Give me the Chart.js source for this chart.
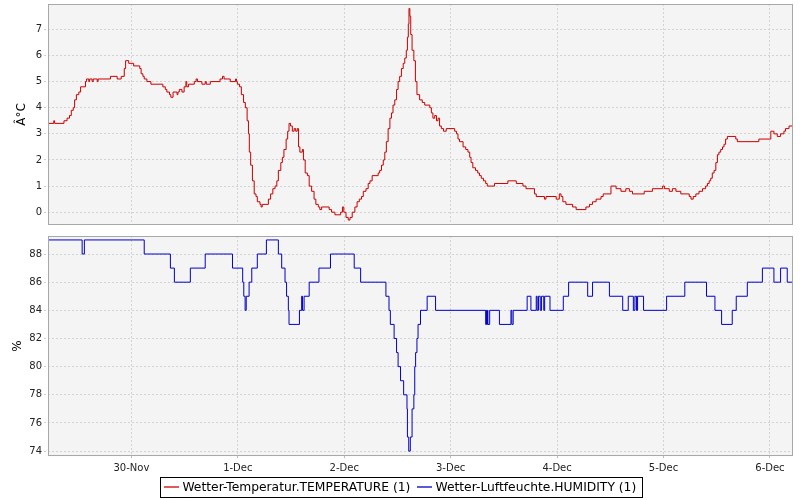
<!DOCTYPE html>
<html><head><meta charset="utf-8">
<script src="https://cdn.jsdelivr.net/npm/chart.js@4.4.0/dist/chart.umd.min.js"></script>
<style>
html,body{margin:0;padding:0;background:#fff;overflow:hidden;width:800px;height:500px;}
#c1{position:absolute;left:0;top:0;}
#c2{position:absolute;left:0;top:231px;}
</style></head><body>
<canvas id="c1" width="800" height="231"></canvas>
<canvas id="c2" width="800" height="273"></canvas>
<script>
// ---- data (hours since 29-Nov 00:00) ----
const dayHours = [24, 48, 72, 96, 120, 144, 168];
const dayLabels = ['30-Nov', '1-Dec', '2-Dec', '3-Dec', '4-Dec', '5-Dec', '6-Dec'];
const tempTicks = [0, 1, 2, 3, 4, 5, 6, 7];
const humTicks = [74, 76, 78, 80, 82, 84, 86, 88];
const seriesNames = ['Wetter-Temperatur.TEMPERATURE (1)', 'Wetter-Luftfeuchte.HUMIDITY (1)'];
const axisTitles = ['Â°C', '%'];

const tempHours = [5.2,6.5,6.7,8.8,9.5,10.05,10.45,10.9,11.2,11.6,12.15,12.55,13.65,13.9,14.4,14.6,15.15,15.4,16.3,16.5,19.3,20.8,21.7,22.4,22.7,23.4,24.5,25.9,26.2,26.6,26.9,27.5,28.4,31.1,31.65,32.0,32.6,32.9,33.4,34.3,34.5,34.8,35.4,35.9,36.3,36.5,36.9,38.2,38.6,38.9,39.9,40.65,40.9,41.8,44.0,44.55,44.9,46.3,47.5,47.7,47.9,48.4,48.8,49.3,49.7,50.1,50.4,50.6,50.9,51.3,51.7,52.1,52.4,53.0,53.25,53.5,54.9,55.4,55.9,56.4,56.8,57.15,57.7,58.05,58.4,58.9,59.25,59.55,59.9,60.3,60.7,61.05,61.4,61.7,62.0,62.55,62.8,63.2,63.7,64.1,64.65,65.2,65.6,66.15,66.5,66.9,68.6,69.15,69.9,71.2,71.6,71.9,72.4,72.9,73.3,73.8,74.4,74.9,75.4,75.9,76.3,76.9,77.4,77.8,78.3,79.65,80.0,80.4,80.8,81.15,81.5,81.9,82.3,82.65,83.0,83.4,83.8,84.15,84.5,84.9,85.3,85.65,86.0,86.25,86.45,86.6,86.8,87.0,87.3,87.7,88.05,88.4,89.0,89.6,90.15,91.3,91.65,92.0,92.4,92.8,93.15,93.5,93.9,94.4,95.0,96.9,97.3,97.65,98.0,98.8,99.4,99.9,100.3,100.6,101.0,101.6,102.1,102.5,102.9,103.4,103.9,104.25,105.9,108.9,110.8,112.3,113.0,114.9,115.3,117.15,117.5,119.8,120.5,120.9,121.3,122.0,123.5,124.3,126.5,127.3,128.0,128.8,129.9,130.4,132.15,133.3,134.4,135.5,136.3,137.0,139.65,141.5,143.8,144.2,145.3,146.0,146.8,147.9,149.8,150.2,150.7,151.3,152.0,152.8,153.5,153.9,154.3,154.65,155.0,155.4,155.8,156.15,156.5,156.9,157.3,157.65,158.0,158.4,160.3,160.65,165.5,168.2,168.9,169.65,170.4,171.15,171.5,172.3,173.2];
const tempValues = [3.4,3.5,3.4,3.5,3.6,3.7,3.9,4.0,4.3,4.5,4.6,4.8,5.0,5.1,5.0,5.1,5.0,5.1,5.0,5.1,5.2,5.1,5.2,5.5,5.8,5.7,5.6,5.5,5.3,5.2,5.1,5.0,4.9,4.8,4.7,4.6,4.5,4.4,4.6,4.5,4.6,4.7,4.6,4.8,5.0,4.8,4.9,5.0,5.1,5.0,4.9,5.0,4.9,5.0,5.1,5.2,5.1,5.0,5.1,5.0,4.9,4.8,4.5,4.2,4.0,3.5,3.0,2.3,1.8,1.2,0.7,0.6,0.4,0.3,0.2,0.3,0.5,0.7,0.9,1.0,1.2,1.6,1.9,2.1,2.4,2.8,3.1,3.4,3.3,3.1,3.2,3.1,3.2,2.5,2.3,2.4,2.0,1.5,1.4,1.0,0.8,0.5,0.3,0.2,0.1,0.2,0.1,0.0,-0.1,0.0,0.2,0.0,-0.2,-0.3,-0.2,0.0,0.2,0.4,0.5,0.6,0.8,0.9,1.1,1.2,1.4,1.5,1.6,1.8,2.0,2.3,2.7,3.2,3.6,3.8,4.1,4.3,4.7,5.0,5.2,5.5,5.7,5.9,6.2,6.7,7.2,7.8,7.5,6.8,6.2,5.8,5.0,4.5,4.3,4.2,4.1,4.0,3.8,3.6,3.7,3.5,3.6,3.3,3.2,3.1,3.2,3.1,3.0,2.8,2.7,2.5,2.4,2.3,2.1,1.9,1.7,1.6,1.5,1.4,1.3,1.2,1.1,1.0,1.1,1.2,1.1,1.0,0.9,0.7,0.6,0.5,0.6,0.5,0.7,0.6,0.4,0.3,0.2,0.1,0.2,0.3,0.4,0.5,0.6,0.7,1.0,0.9,0.8,0.9,0.8,0.7,0.8,0.9,1.0,0.9,0.8,0.9,0.8,0.7,0.6,0.5,0.6,0.7,0.8,0.9,1.0,1.1,1.2,1.3,1.5,1.6,1.9,2.2,2.3,2.4,2.5,2.6,2.8,2.9,2.8,2.7,2.8,3.1,3.0,2.9,3.0,3.1,3.2,3.3,3.3];

const humHours = [5.2,12.9,13.4,26.9,32.8,33.7,37.3,40.65,46.8,49.1,49.35,49.65,49.9,50.55,51.15,52.4,54.45,57.15,57.9,58.65,59.0,59.4,59.55,61.9,62.4,62.6,62.95,64.1,66.3,68.9,74.25,75.7,81.4,82.1,82.4,83.25,83.8,84.15,84.7,85.4,86.15,86.25,86.55,86.9,87.3,87.7,87.9,88.1,88.4,88.65,89.2,90.7,92.6,103.9,104.05,104.15,104.3,104.4,104.8,107.0,109.6,109.8,110.1,113.25,114.1,115.3,115.5,115.8,116.2,116.5,117.0,117.2,118.4,121.4,122.6,126.9,128.0,131.8,134.8,136.05,137.2,137.55,137.9,138.15,139.5,144.7,148.8,153.7,155.6,157.1,159.5,160.4,162.9,166.3,168.9,170.4,171.9,173.2];
const humValues = [89,88,89,88,87,86,87,88,87,86,85,84,85,86,87,88,89,88,87,86,85,84,83,84,85,84,85,86,87,88,87,86,85,84,83,82,81,80,79,78,77,75,74,75,77,78,80,81,82,83,84,85,84,83,84,83,84,83,84,83,84,83,84,85,84,85,84,85,84,85,84,85,84,85,86,85,86,85,84,85,84,85,84,85,84,85,86,85,84,83,84,85,86,87,86,87,86,86];

// ---- rendering ----
Chart.defaults.font.family = "'DejaVu Sans', sans-serif";
Chart.defaults.animation = false;
const X_MIN = 5.2, X_MAX = 173.2;
const tempColor = '#c80000', humColor = '#0000c8';
const tempLegendColor = '#e05a5a', humLegendColor = '#5a5ae0';
const gridColor = '#d2d2d2';

const toPts = (xs, ys) => xs.map((x, i) => ({x, y: ys[i]}));

function legendMarker(color) {
  const c = document.createElement('canvas');
  c.width = 15; c.height = 2;
  const g = c.getContext('2d');
  g.fillStyle = color; g.fillRect(0, 0, 15, 2);
  return c;
}

const framePlugin = {
  id: 'frame',
  beforeDraw(chart) {
    const {ctx, chartArea: a} = chart;
    ctx.save(); ctx.fillStyle = '#f4f4f4';
    ctx.fillRect(a.left, a.top, a.right - a.left, a.bottom - a.top);
    ctx.restore();
  },
  afterDatasetsDraw(chart) {
    const {ctx, chartArea: a} = chart;
    ctx.save(); ctx.strokeStyle = '#a8a8a8'; ctx.lineWidth = 1;
    ctx.strokeRect(Math.round(a.left) + 0.5, Math.round(a.top) + 0.5,
      Math.round(a.right - a.left) - 1, Math.round(a.bottom - a.top) - 1);
    ctx.restore();
  }
};
const legendBoxPlugin = {
  id: 'legendBox',
  afterDraw(chart) {
    const hb = chart.legend && chart.legend.legendHitBoxes;
    if (!hb || !hb.length) return;
    const ctx = chart.ctx;
    const l = Math.min(...hb.map(b => b.left)) - 6.5;
    const r = Math.max(...hb.map(b => b.left + b.width)) + 5.5;
    const t = hb[0].top - 4, b = hb[0].top + 16;
    ctx.save(); ctx.strokeStyle = '#000'; ctx.lineWidth = 1;
    ctx.strokeRect(Math.round(l) + 0.5, Math.round(t) + 0.5, Math.round(r - l), Math.round(b - t));
    ctx.restore();
  }
};

function xScale(showLabels) {
  return {
    type: 'linear', min: X_MIN, max: X_MAX,
    afterBuildTicks: s => { s.ticks = dayHours.map(v => ({value: v})); },
    afterFit: s => { s.height = showLabels ? 16 : 0; s.paddingLeft = 0; s.paddingRight = 0; },
    ticks: { display: showLabels, autoSkip: false, maxRotation: 0, padding: 4,
      font: {size: 10}, color: '#222', callback: (v, i) => dayLabels[i] },
    grid: { color: gridColor, drawTicks: showLabels, tickLength: 2, tickColor: '#bbb', tickBorderDash: [] },
    border: { display: false, dash: [2, 2] }
  };
}
function yScale(ticksArr, min, max, width, title, titlePad, titleLH) {
  return {
    type: 'linear', min, max,
    afterBuildTicks: s => { s.ticks = ticksArr.map(v => ({value: v})); },
    afterFit: s => { s.width = width; s.paddingTop = 0; s.paddingBottom = 0; },
    ticks: { font: {size: 10}, color: '#222', padding: 2 },
    grid: { color: gridColor, tickLength: 4, tickColor: '#cfcfcf', tickBorderDash: [2, 2] },
    border: { display: false, dash: [2, 2] },
    title: { display: true, text: title, color: '#000', font: {size: 12, lineHeight: titleLH}, padding: {top: titlePad, bottom: 0} }
  };
}

new Chart(document.getElementById('c1'), {
  type: 'line',
  data: { datasets: [{ label: seriesNames[0], data: toPts(tempHours, tempValues),
    borderColor: tempColor, borderWidth: 1, pointRadius: 0, stepped: true, fill: false }] },
  options: {
    responsive: false, animation: false,
    layout: { padding: {left: 0, right: 7, top: 4, bottom: 6} },
    plugins: { legend: {display: false}, tooltip: {enabled: false} },
    scales: { x: xScale(false), y: yScale(tempTicks, -0.49, 7.97, 48, axisTitles[0], 15, 1.2) }
  },
  plugins: [framePlugin]
});

new Chart(document.getElementById('c2'), {
  type: 'line',
  data: { datasets: [{ label: seriesNames[1], data: toPts(humHours, humValues),
    borderColor: humColor, borderWidth: 1, pointRadius: 0, stepped: true, fill: false }] },
  options: {
    responsive: false, animation: false,
    layout: { padding: {left: 9.5, right: 7, top: 5, bottom: 0.5} },
    plugins: {
      tooltip: {enabled: false},
      legend: { display: true, position: 'bottom', onClick: null,
        labels: { font: {size: 12.3}, color: '#000', usePointStyle: true, pointStyleWidth: 10, boxHeight: 2, padding: 9,
          generateLabels: () => [
            {text: seriesNames[0], fillStyle: tempLegendColor, strokeStyle: tempLegendColor, lineWidth: 0, hidden: false, datasetIndex: 0, fontColor: '#000', pointStyle: legendMarker(tempLegendColor)},
            {text: seriesNames[1], fillStyle: humLegendColor, strokeStyle: humLegendColor, lineWidth: 0, hidden: false, datasetIndex: 1, fontColor: '#000', pointStyle: legendMarker(humLegendColor)}
          ] } }
    },
    scales: { x: xScale(true), y: yScale(humTicks, 73.64, 89.28, 38.5, axisTitles[1], 2.5, 1.0) }
  },
  plugins: [framePlugin, legendBoxPlugin]
});
</script>
</body></html>
